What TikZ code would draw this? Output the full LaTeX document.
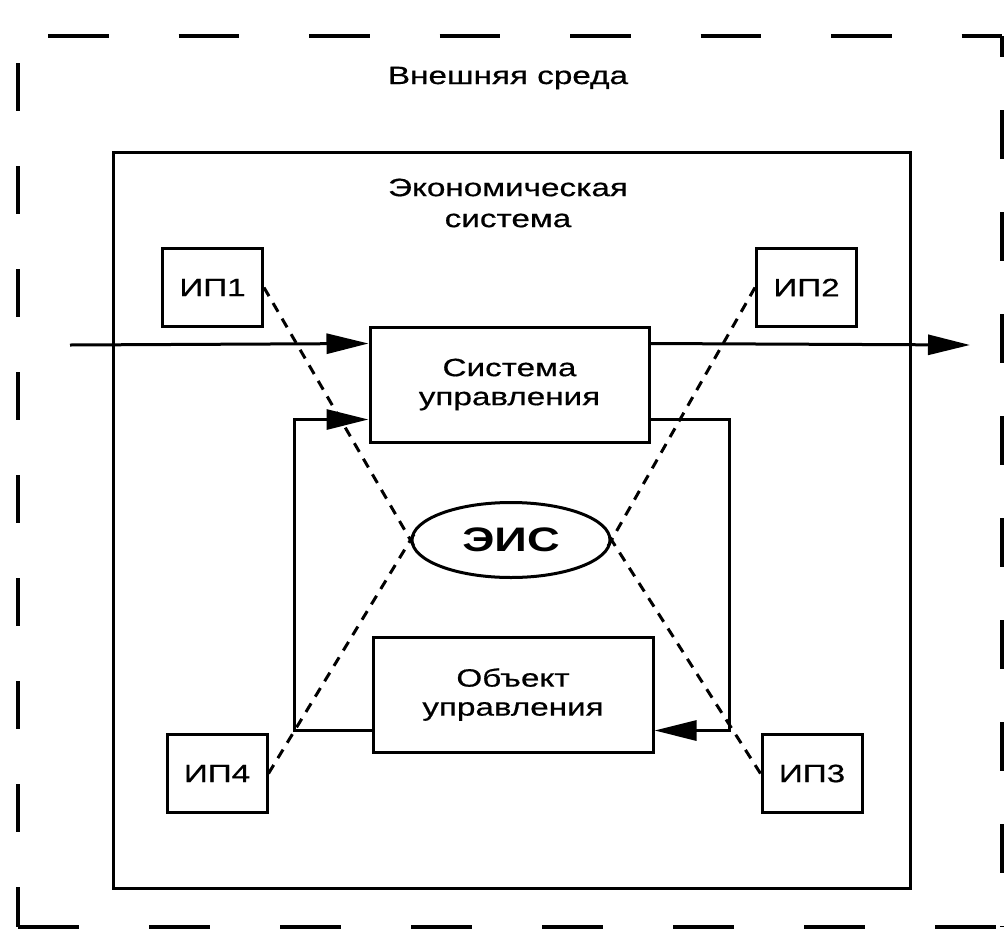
\documentclass[tikz,border=0pt]{standalone}
\usepackage{fontspec}
\setmainfont[FakeStretch=1.33]{Liberation Sans}
\newfontfamily\diagfont[FakeStretch=1.33,FakeBold=0.6]{Liberation Sans}
\usetikzlibrary{arrows.meta,shapes.geometric}
\begin{document}
\begin{tikzpicture}[x=1pt,y=-1pt,
  txt/.style={inner sep=0pt, align=center, font=\diagfont\fontsize{25}{29}\selectfont},
  box/.style={txt, draw, line width=3pt},
  ipbox/.style={box, minimum width=100pt, minimum height=78pt},
  bigbox/.style={box, minimum width=279pt, minimum height=115pt},
  flow/.style={line width=3pt, -{Triangle[length=42pt,width=20pt]}},
  probe/.style={line width=3pt, dash pattern=on 10pt off 8pt},
  outer/.style={line width=3.5pt}
]
\useasboundingbox (0,0) rectangle (1005,930);
% outer environment (dashed)
\draw[outer, dash pattern=on 60.5pt off 70pt, dash phase=100.5pt] (18,36) -- (1002,36);
\draw[outer, dash pattern=on 49pt off 53pt, dash phase=28pt] (1002,36) -- (1002,927);
\draw[outer, dash pattern=on 61pt off 70pt] (18,927) -- (1002,927);
\draw[outer, dash pattern=on 48pt off 55pt, dash phase=76pt] (18,36) -- (18,927);
\node[txt] (env) at (508,78) {Внешняя среда};
% economic system
\draw[line width=3pt] (113,152) rectangle (910,888);
\node[txt, font=\diagfont\fontsize{25}{31}\selectfont] (econ) at (508,203) {Экономическая\\система};
% boxes
\node[bigbox] (su) at (509.5,384.5) {Система\\управления};
\node[bigbox, minimum width=280pt] (ou) at (513,694.5) {Объект\\управления};
\node[ipbox] (ip1) at (212.5,287.5) {ИП1};
\node[ipbox] (ip2) at (806.5,287.5) {ИП2};
\node[ipbox] (ip3) at (812,773.5) {ИП3};
\node[ipbox] (ip4) at (217,773.5) {ИП4};
\node[draw, ellipse, line width=3pt, minimum width=198pt, minimum height=75pt, inner sep=0pt,
      font=\bfseries\fontsize{34}{34}\selectfont] (eis) at (511,540) {ЭИС};
% main flow
\coordinate (in) at (70,345);
\coordinate (out) at (970,345);
\draw[flow] (in) -- ([yshift=-18pt]su.north west);
\draw[flow] ([yshift=-18pt]su.north east) -- (out);
% feedback loops
\draw[flow] ([yshift=23pt]ou.south west) -- ++(-77,0) |- ([yshift=24pt]su.south west);
\draw[flow] ([yshift=24pt]su.south east) -- ++(79,0) |- ([yshift=23pt]ou.south east);
% information links
\draw[probe, shorten >=-7pt] (ip1.east) -- (eis.west);
\draw[probe, shorten >=-7pt] (ip4.east) -- (eis.west);
\draw[probe, shorten >=-7pt] (ip2.west) -- (eis.east);
\draw[probe, shorten >=-7pt] (ip3.west) -- (eis.east);
\end{tikzpicture}
\end{document}
